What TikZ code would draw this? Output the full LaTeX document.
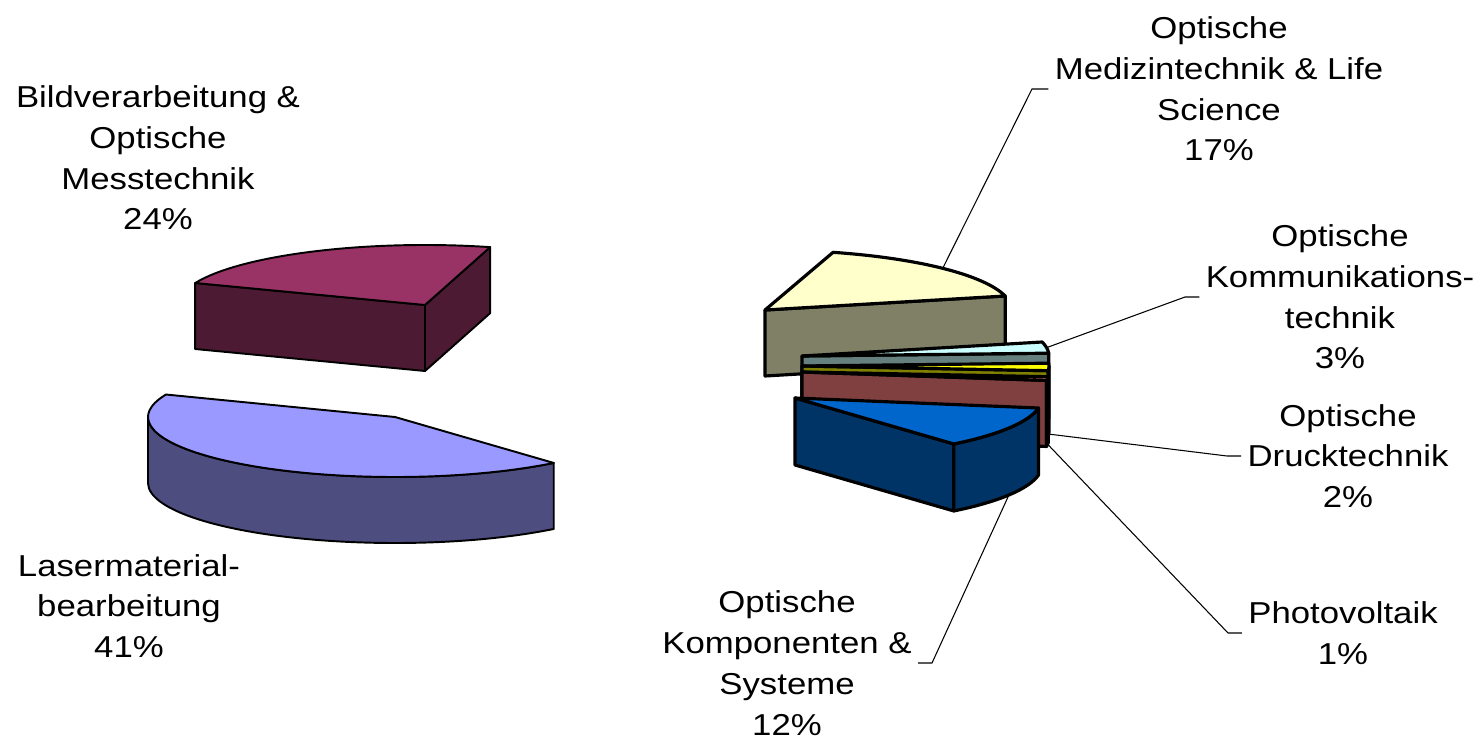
\documentclass[tikz,border=0pt]{standalone}
\usepackage{fontspec}
\setmainfont{Liberation Sans}[FakeStretch=1.15]
\usetikzlibrary{calc}

\definecolor{lastop}{HTML}{9999FF}
\definecolor{lasside}{HTML}{4D4D80}
\definecolor{bildtop}{HTML}{993366}
\definecolor{bildside}{HTML}{4D1A33}
\definecolor{medtop}{HTML}{FFFFCC}
\definecolor{medside}{HTML}{808066}
\definecolor{kommtop}{HTML}{CCFFFF}
\definecolor{kommside}{HTML}{668080}
\definecolor{drucktop}{HTML}{FFFF00}
\definecolor{druckside}{HTML}{808000}
\definecolor{phototop}{HTML}{FF8080}
\definecolor{photoside}{HTML}{804040}
\definecolor{komptop}{HTML}{0066CC}
\definecolor{kompside}{HTML}{003366}

\begin{document}
\begin{tikzpicture}[x=0.02cm, y=-0.02cm,
                    labelnode/.style={align=center, inner sep=0pt, font=\fontsize{17.2}{23.2}\selectfont},
                    leader/.style={black, line width=0.6pt, shorten >=3.5pt},
                    leftslice/.style={draw=black, line width=1.1pt, line join=round},
                    rightslice/.style={draw=black, line width=1.8pt, line join=round}]
    \useasboundingbox (0,0) rectangle (1479,739);
    % left pie
    \coordinate (L) at (395,417);
    \coordinate (P) at (425,305);
    \filldraw[leftslice, fill=lasside] (L) ++(50:247 and 60) -- ++(0,66)
        arc[start angle=50, end angle=180, x radius=247, y radius=60] -- ++(0,-66)
        arc[start angle=180, end angle=50, x radius=247, y radius=60] -- cycle;
    \filldraw[leftslice, fill=lastop] (L) -- ++(50:247 and 60)
        arc[start angle=50, end angle=202, x radius=247, y radius=60] -- cycle;
    \coordinate (P1) at ($(P)+(201.5:247 and 60)$);
    \coordinate (P2) at ($(P)+(285.3:247 and 60)$);
    \filldraw[leftslice, fill=bildside] (P) -- (P1) -- ++(0,66) -- ($(P)+(0,66)$) -- cycle;
    \filldraw[leftslice, fill=bildside] (P) -- (P2) -- ++(0,66) -- ($(P)+(0,66)$) -- cycle;
    \filldraw[leftslice, fill=bildtop] (P) -- (P1)
        arc[start angle=201.5, end angle=285.3, x radius=247, y radius=60] -- cycle;
    % right pie
    \coordinate (M) at (765,310);
    \coordinate (K) at (802,356);
    \coordinate (D) at (802,366);
    \coordinate (V) at (802,372);
    \coordinate (B) at (795,398);
    \filldraw[rightslice, fill=medside] (M) -- ++(346.5:247 and 60) -- ++(0,66) -- ($(M)+(0,66)$) -- cycle;
    \filldraw[rightslice, fill=medtop] (M) -- ++(286:247 and 60)
        arc[start angle=286, end angle=346.5, x radius=247, y radius=60] -- cycle;
    \filldraw[rightslice, fill=kommside] (K) -- ++(357.3:247 and 60) -- ++(0,66) -- ($(K)+(0,66)$) -- cycle;
    \filldraw[rightslice, fill=kommtop] (K) -- ++(346.5:247 and 60)
        arc[start angle=346.5, end angle=357.3, x radius=247, y radius=60] -- cycle;
    \filldraw[rightslice, fill=druckside] (D) -- ++(4.5:247 and 60) -- ++(0,66) -- ($(D)+(0,66)$) -- cycle;
    \filldraw[rightslice, fill=druckside] (D) ++(0:247 and 60) -- ++(0,66)
        arc[start angle=0, end angle=4.5, x radius=247, y radius=60] -- ++(0,-66)
        arc[start angle=4.5, end angle=0, x radius=247, y radius=60] -- cycle;
    \filldraw[rightslice, fill=drucktop] (D) -- ++(357.3:247 and 60)
        arc[start angle=357.3, end angle=364.5, x radius=247, y radius=60] -- cycle;
    \filldraw[rightslice, fill=photoside] (V) -- ++(8.1:247 and 60) -- ++(0,66) -- ($(V)+(0,66)$) -- cycle;
    \filldraw[rightslice, fill=photoside] (V) ++(4.5:247 and 60) -- ++(0,66)
        arc[start angle=4.5, end angle=8.1, x radius=247, y radius=60] -- ++(0,-66)
        arc[start angle=8.1, end angle=4.5, x radius=247, y radius=60] -- cycle;
    \filldraw[rightslice, fill=phototop] (V) -- ++(4.5:247 and 60)
        arc[start angle=4.5, end angle=8.1, x radius=247, y radius=60] -- cycle;
    \filldraw[rightslice, fill=kompside] (B) -- ++(50:247 and 60) -- ++(0,67) -- ($(B)+(0,67)$) -- cycle;
    \filldraw[rightslice, fill=kompside] (B) ++(9.6:247 and 60) -- ++(0,67)
        arc[start angle=9.6, end angle=50, x radius=247, y radius=60] -- ++(0,-67)
        arc[start angle=50, end angle=9.6, x radius=247, y radius=60] -- cycle;
    \filldraw[rightslice, fill=komptop] (B) -- ++(9.6:247 and 60)
        arc[start angle=9.6, end angle=50, x radius=247, y radius=60] -- cycle;
    % labels
    \node[labelnode] (bild)    at (158,158)  {Bildverarbeitung \&\\Optische\\Messtechnik\\24\%};
    \node[labelnode] (laser)   at (129,606)  {Lasermaterial-\\bearbeitung\\41\%};
    \node[labelnode] (medizin) at (1219,89)  {Optische\\Medizintechnik \& Life\\Science\\17\%};
    \node[labelnode] (komm)    at (1340,297) {Optische\\Kommunikations-\\technik\\3\%};
    \node[labelnode] (druck)   at (1348,456) {Optische\\Drucktechnik\\2\%};
    \node[labelnode] (photo)   at (1343,633) {Photovoltaik\\1\%};
    \node[labelnode] (komp)    at (787,663)  {Optische\\Komponenten \&\\Systeme\\12\%};
    % lines
    \coordinate (medtip)    at ($(M)+(316:247 and 60)$);
    \coordinate (kommtip)   at ($(K)+(352:247 and 60)$);
    \coordinate (drucktip)  at ($(D)+(2:247 and 60)+(0,66)$);
    \coordinate (phototip)  at ($(V)+(6:247 and 60)+(0,66)$);
    \coordinate (komptip)   at ($(B)+(30:247 and 60)+(0,67)$);
    \coordinate (medelbow)   at (1032,89);
    \coordinate (kommelbow)  at (1185,297);
    \coordinate (druckelbow) at (1227,456);
    \coordinate (photoelbow) at (1228,633);
    \coordinate (kompelbow)  at (932,663);
    \draw[leader] (medtip) -- (medelbow) -- (medizin.west);
    \draw[leader] (kommtip) -- (kommelbow) -- (komm.west);
    \draw[leader] (drucktip) -- (druckelbow) -- (druck.west);
    \draw[leader] (phototip) -- (photoelbow) -- (photo.west);
    \draw[leader] (komptip) -- (kompelbow) -- (komp.east);
\end{tikzpicture}
\end{document}
